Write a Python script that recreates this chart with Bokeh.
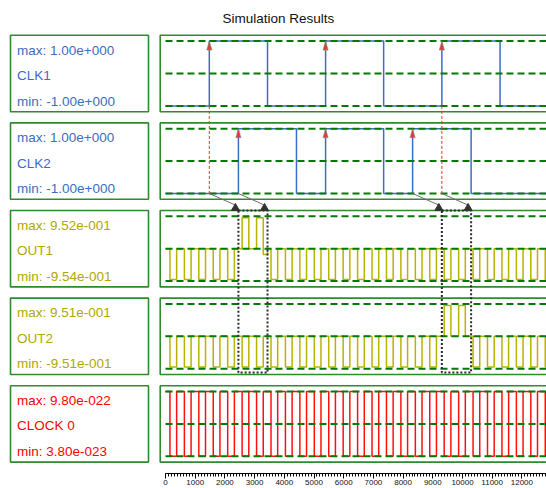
from bokeh.plotting import figure
from bokeh.models import Range1d, FixedTicker, Title, ColumnDataSource
from bokeh.layouts import row
from bokeh.embed import file_html
from bokeh.resources import INLINE
from bokeh.core.properties import value

# ---------------- data ----------------
TITLE = "Simulation Results"
names = ["CLK1", "CLK2", "OUT1", "OUT2", "CLOCK 0"]
max_text = ["max: 1.00e+000", "max: 1.00e+000", "max: 9.52e-001", "max: 9.51e-001", "max: 9.80e-022"]
min_text = ["min: -1.00e+000", "min: -1.00e+000", "min: -9.54e-001", "min: -9.51e-001", "min: 3.80e-023"]
scale_lo = [-1.0, -1.0, -1.0, -1.0, 3.80e-23]
scale_hi = [1.0, 1.0, 1.0, 1.0, 9.80e-22]

clk1_t = [0, 1475, 3435, 5390, 7345, 9305, 11265]
clk1_v = [-1.0, 1.0, -1.0, 1.0, -1.0, 1.0, -1.0]
clk2_t = [0, 2455, 4410, 5390, 7345, 8320, 10290]
clk2_v = [-1.0, 1.0, -1.0, 1.0, -1.0, 1.0, -1.0]

clock0_t = [0, 150, 375, 636, 861, 1122, 1347, 1608, 1833, 2094, 2319, 2580, 2805, 3066, 3291,
            3552, 3777, 4038, 4263, 4524, 4749, 5010, 5235, 5496, 5721, 5982, 6207, 6468, 6693,
            6954, 7179, 7440, 7665, 7926, 8151, 8412, 8637, 8898, 9123, 9384, 9609, 9870, 10095,
            10356, 10581, 10842, 11067, 11328, 11553, 11814, 12039, 12300, 12525, 12786]
clock0_start = 9.80e-22
clock0_other = 3.80e-23

out1_t = [0, 150, 375, 636, 861, 1122, 1347, 1608, 1833, 2094, 2319, 2580, 2805, 3066, 3291, 3435,
          3552, 3777, 4038, 4263, 4524, 4749, 5010, 5235, 5496, 5721, 5982, 6207, 6468, 6693,
          6954, 7179, 7440, 7665, 7926, 8151, 8412, 8637, 8898, 9123, 9384, 9609, 9870, 10095,
          10356, 10581, 10842, 11067, 11328, 11553, 11814, 12039, 12300, 12525, 12786]
out1_v = [0, -0.954, 0, -0.954, 0, -0.954, 0, -0.954, 0, -0.954, 0, 0.952, 0, 0.952, -0.18, 0,
          -0.954, 0, -0.954, 0, -0.954, 0, -0.954, 0, -0.954, 0, -0.954, 0, -0.954, 0,
          -0.954, 0, -0.954, 0, -0.954, 0, -0.954, 0, -0.954, 0, -0.954, 0, -0.954, 0,
          -0.954, 0, -0.954, 0, -0.954, 0, -0.954, 0, -0.954, 0, -0.954]

out2_t = [0, 150, 375, 636, 861, 1122, 1347, 1608, 1833, 2094, 2319, 2580, 2805, 3066, 3291,
          3552, 3777, 4038, 4263, 4524, 4749, 5010, 5235, 5496, 5721, 5982, 6207, 6468, 6693,
          6954, 7179, 7440, 7665, 7926, 8151, 8412, 8637, 8898, 9123, 9384, 9609, 9870, 10095,
          10356, 10581, 10842, 11067, 11328, 11553, 11814, 12039, 12300, 12525, 12786]
out2_v = [0, -0.951, 0, -0.951, 0, -0.951, 0, -0.951, 0, -0.951, 0, -0.951, 0, -0.951, 0,
          -0.951, 0, -0.951, 0, -0.951, 0, -0.951, 0, -0.951, 0, -0.951, 0, -0.951, 0,
          -0.951, 0, -0.951, 0, -0.951, 0, -0.951, 0, -0.951, 0, 0.951, 0, 0.951, 0,
          -0.951, 0, -0.951, 0, -0.951, 0, -0.951, 0, -0.951, 0, -0.951]

tick_values = [0, 1000, 2000, 3000, 4000, 5000, 6000, 7000, 8000, 9000, 10000, 11000, 12000]

# ---------------- geometry / style ----------------
PX_Y = 1 / 32.4            # y units per pixel
PX_X = 1000 / 29.7         # time units per pixel
LANE_GAP = 87.6 * PX_Y
offsets = [-i * LANE_GAP for i in range(5)]
BOX_HALF = 38.2 * PX_Y
RIGHT_W, LEFT_W, H = 388, 158, 488
FRAME_TOP, FRAME_BOTTOM, LANE0 = 27, 473, 73
X_START = -7 * PX_X
X_END = X_START + RIGHT_W * PX_X
Y_TOP = (LANE0 - FRAME_TOP) * PX_Y
Y_BOTTOM = -(FRAME_BOTTOM - LANE0) * PX_Y

text_colors = ["#3d6cc2", "#3d6cc2", "#b0a800", "#b0a800", "#ff0000"]
line_colors = ["#3d6cc6", "#3d6cc6", "#bab200", "#bab200", "#ff1010"]
BOX_GREEN = "#2e8b2e"
DASH_GREEN = "#007a00"
FONT = "Liberation Sans"

yr = Range1d(Y_BOTTOM, Y_TOP)

# ---------------- right (signals) figure ----------------
p = figure(width=RIGHT_W, height=H, x_range=Range1d(X_START, X_END), y_range=yr,
           output_backend="svg", toolbar_location=None, y_axis_location=None,
           min_border_left=0, min_border_right=0,
           min_border_top=FRAME_TOP, min_border_bottom=H - FRAME_BOTTOM)
p.grid.visible = False
p.outline_line_color = None
p.background_fill_color = "white"
p.border_fill_color = "white"

p.add_layout(Title(text=TITLE, align="left", offset=64, text_font_size="13.5px",
                   text_font=FONT, text_font_style="normal", text_color="#111111",
                   standoff=4), "above")

# lane boxes
p.quad(left=[-5.3 * PX_X] * 5, right=[X_END + 2000] * 5,
       top=[o + BOX_HALF for o in offsets], bottom=[o - BOX_HALF for o in offsets],
       fill_color=None, line_color=BOX_GREEN, line_width=1.6)


def norm(v, i):
    return offsets[i] - 1 + 2 * (v - scale_lo[i]) / (scale_hi[i] - scale_lo[i])


clock0_v = []
lvl = clock0_start
for _ in clock0_t:
    clock0_v.append(lvl)
    lvl = clock0_other if lvl == clock0_start else clock0_start

series = [(clk1_t, clk1_v), (clk2_t, clk2_v), (out1_t, out1_v), (out2_t, out2_v), (clock0_t, clock0_v)]
for i, (ts, vs) in enumerate(series):
    xs = list(ts) + [X_END + 2000]
    ys = [norm(v, i) for v in list(vs) + [vs[-1]]]
    p.step(x=xs, y=ys, mode="after", line_color=line_colors[i], line_width=1.5)

# dashed reference lines
x0s, x1s, ys = [], [], []
for o in offsets:
    for d in (1, 0, -1):
        x0s.append(0); x1s.append(X_END + 2000); ys.append(o + d)
p.segment(x0=x0s, y0=ys, x1=x1s, y1=ys, line_color=DASH_GREEN, line_width=2, line_dash="7 4")

# edges of the two clocks
clk1_rises = [t for t, a, b in zip(clk1_t[1:], clk1_v[:-1], clk1_v[1:]) if a < b]
clk2_rises = [t for t, a, b in zip(clk2_t[1:], clk2_v[:-1], clk2_v[1:]) if a < b]
clk1_falls = [t for t, a, b in zip(clk1_t[1:], clk1_v[:-1], clk1_v[1:]) if a > b]
clk2_falls = [t for t, a, b in zip(clk2_t[1:], clk2_v[:-1], clk2_v[1:]) if a > b]

# red dashed links CLK1 -> CLK2
red_x = [clk1_rises[0], clk1_rises[2]]
p.segment(x0=red_x, y0=[offsets[0] - 1] * 2, x1=red_x, y1=[offsets[1] - 1] * 2,
          line_color="#ff2a2a", line_width=1, line_dash="3 2")

# red arrow heads on rising edges
txs, tys = [], []
for i, rises in ((0, clk1_rises), (1, clk2_rises)):
    top = offsets[i] + 1
    for t in rises:
        txs.append([t - 2.6 * PX_X, t + 2.6 * PX_X, t])
        tys.append([top - 9 * PX_Y, top - 9 * PX_Y, top])
p.patches(txs, tys, fill_color="#e23a3a", line_color="#8c8c8c", line_width=0.6)

# dotted windows
win_left = [clk2_rises[0], clk1_rises[2]]
win_right = [clk1_falls[0], clk2_falls[2]]
p.quad(left=win_left, right=win_right, top=[offsets[2] + BOX_HALF] * 2,
       bottom=[offsets[3] - BOX_HALF + 2 * PX_Y] * 2, fill_color=None,
       line_color="#2a2a2a", line_width=2, line_dash="2 2")

# grey arrows
a_start = [clk1_rises[0], clk2_rises[0], clk2_rises[2], clk1_rises[2]]
a_target = [win_left[0], win_right[0], win_left[1], win_right[1]]
a_y0 = offsets[1] - 1
m_y = offsets[2] + BOX_HALF + 2.4 * PX_Y
m_x = [t - 3 * PX_X for t in a_target]
p.segment(x0=a_start, y0=[a_y0] * 4, x1=m_x, y1=[m_y + 3 * PX_Y] * 4,
          line_color="#6e6e6e", line_width=1)
p.scatter(x=m_x, y=[m_y] * 4, marker="triangle", size=8,
          fill_color="#333333", line_color="#333333")

ax = p.xaxis[0]
ax.ticker = FixedTicker(ticks=tick_values, minor_ticks=list(range(0, 13000, 100)))
ax.bounds = (0, X_END)
ax.major_tick_out = 5
ax.major_tick_in = 0
ax.minor_tick_out = 3
ax.minor_tick_in = 0
ax.axis_line_color = "#000000"
ax.major_tick_line_color = "#000000"
ax.minor_tick_line_color = "#000000"
ax.major_label_text_font_size = "8px"
ax.major_label_text_font = FONT
ax.major_label_text_color = "#111111"
ax.major_label_standoff = 1

# ---------------- left (labels) figure ----------------
pl = figure(width=LEFT_W, height=H, x_range=Range1d(0, LEFT_W), y_range=yr,
            output_backend="svg", toolbar_location=None,
            x_axis_location=None, y_axis_location=None,
            min_border_left=0, min_border_right=0,
            min_border_top=FRAME_TOP, min_border_bottom=H - FRAME_BOTTOM)
pl.grid.visible = False
pl.outline_line_color = None
pl.quad(left=[10] * 5, right=[148] * 5,
        top=[o + BOX_HALF for o in offsets], bottom=[o - BOX_HALF for o in offsets],
        fill_color=None, line_color=BOX_GREEN, line_width=1.6)

lx, ly, lt, lc = [], [], [], []
for i, o in enumerate(offsets):
    for txt, dy in ((max_text[i], 23.5), (names[i], -2.0), (min_text[i], -27.5)):
        lx.append(16.5); ly.append(o + dy * PX_Y); lt.append(txt); lc.append(text_colors[i])
src = ColumnDataSource(dict(x=lx, y=ly, text=lt, color=lc))
pl.text(x="x", y="y", text="text", text_color="color", source=src,
        text_font=value(FONT), text_font_size="13.5px",
        text_baseline="middle", text_align="left")

layout = row(pl, p, spacing=0)
open("out.html", "w").write(file_html(layout, INLINE))
